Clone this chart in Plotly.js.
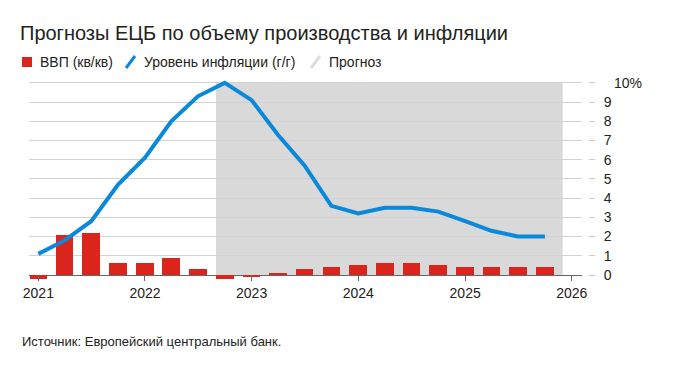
<!DOCTYPE html>
<html><head><meta charset="utf-8">
<script src="https://cdn.plot.ly/plotly-3.0.1.min.js"></script>
<style>html,body{margin:0;padding:0;background:#fff}#chart{width:675px;height:378px}</style>
</head><body><div id="chart"></div>
<script>
const quarters = ['2021-01-01','2021-04-01','2021-07-01','2021-10-01',
  '2022-01-01','2022-04-01','2022-07-01','2022-10-01',
  '2023-01-01','2023-04-01','2023-07-01','2023-10-01',
  '2024-01-01','2024-04-01','2024-07-01','2024-10-01',
  '2025-01-01','2025-04-01','2025-07-01','2025-10-01'];
const gdp = [-0.2, 2.1, 2.2, 0.6, 0.6, 0.9, 0.3, -0.2, -0.1, 0.1, 0.3, 0.4, 0.5, 0.6, 0.6, 0.5, 0.4, 0.4, 0.4, 0.4];
const inflation = [1.1, 1.8, 2.8, 4.7, 6.1, 8.0, 9.3, 10.0, 9.1, 7.3, 5.7, 3.6, 3.2, 3.5, 3.5, 3.3, 2.8, 2.3, 2.0, 2.0];
const forecastStart = '2022-09-01';
const forecastEnd = '2025-12-01';
const yearTicks = ['2021-01-01','2022-01-01','2023-01-01','2024-01-01','2025-01-01','2026-01-01'];
const yearLabels = ['2021','2022','2023','2024','2025','2026'];
const yTicks = [0,1,2,3,4,5,6,7,8,9,10];
const yLabels = ['0','1','2','3','4','5','6','7','8','9','10%'];
const legendNames = ['ВВП (кв/кв)', 'Уровень инфляции (г/г)', 'Прогноз'];
const titleText = 'Прогнозы ЕЦБ по объему производства и инфляции';
const sourceText = 'Источник: Европейский центральный банк.';

const RED = '#da251d', BLUE = '#0a88da', SHADE = '#d9d9d9';
const W = 675, H = 378, L = 29, R = 87, T = 79, B = 97;
const pw = W - L - R, ph = H - T - B;
const px = x => (x - L) / pw;
const py = y => (H - B - y) / ph;
const FONT = 'Liberation Sans, Arial, sans-serif';

const traces = [
  {type:'bar', x: quarters, y: gdp, marker:{color: RED}, width: 5.2e9, hoverinfo:'skip', showlegend:false},
  {type:'scatter', mode:'lines', x: quarters, y: inflation, line:{color: BLUE, width: 4, shape:'linear'}, hoverinfo:'skip', showlegend:false}
];

const shapes = [
  {type:'rect', layer:'below', xref:'x', yref:'y', x0: forecastStart, x1: forecastEnd, y0: 0, y1: 10, fillcolor: SHADE, line:{width:0}},
  {type:'rect', xref:'paper', yref:'paper', x0: px(22), x1: px(32), y0: py(67), y1: py(57), fillcolor: RED, line:{width:0}},
  {type:'line', xref:'paper', yref:'paper', x0: px(126), x1: px(135), y0: py(68), y1: py(56), line:{color: BLUE, width: 3}},
  {type:'line', xref:'paper', yref:'paper', x0: px(311), x1: px(320), y0: py(68), y1: py(56), line:{color: '#dcdcdc', width: 3}}
];

const lastIdx = yLabels.length - 1;
const annotations = [
  {xref:'paper', yref:'paper', x: px(38), y: py(62), xanchor:'left', yanchor:'middle', showarrow:false, text: legendNames[0], font:{family:FONT, size:14, color:'#222'}},
  {xref:'paper', yref:'paper', x: px(142), y: py(62), xanchor:'left', yanchor:'middle', showarrow:false, text: legendNames[1], font:{family:FONT, size:14, color:'#222'}},
  {xref:'paper', yref:'paper', x: px(327), y: py(62), xanchor:'left', yanchor:'middle', showarrow:false, text: legendNames[2], font:{family:FONT, size:14, color:'#222'}},
  {xref:'paper', yref:'paper', x: px(20), y: py(341), xanchor:'left', yanchor:'middle', showarrow:false, text: sourceText, font:{family:FONT, size:13, color:'#222'}},
  {xref:'paper', yref:'y', x: px(612), y: yTicks[lastIdx], xanchor:'left', yanchor:'middle', showarrow:false, text: yLabels[lastIdx], font:{family:FONT, size:14, color:'#222'}}
];

const layout = {
  width: W, height: H,
  margin: {l: L, r: R, t: T, b: B},
  paper_bgcolor: '#fff', plot_bgcolor: '#fff',
  font: {family: FONT, size: 14, color: '#222'},
  title: {text: titleText, xref:'container', yref:'container', x: 20/W, xanchor:'left', y: 1 - 33/H, yanchor:'middle', font:{family: FONT, size: 20, color:'#222'}},
  showlegend: false,
  bargap: 0,
  xaxis: {type:'date', domain:[0, (582 - L) / pw], range:['2020-11-30','2026-02-05'],
    tickvals: yearTicks, ticktext: yearLabels, ticks:'inside', ticklen: 6, tickcolor:'#666', tickwidth: 1,
    ticklabelstandoff: 2,
    showgrid:false, zeroline:false, showline:false, tickfont:{size:14, color:'#222'}, fixedrange:true},
  yaxis: {side:'right', anchor:'free', position: 1, range:[-0.3125, 10.2],
    tickvals: yTicks, ticktext: yLabels.map((t, i) => i === lastIdx ? '' : t), ticks:'outside', ticklen: 6, tickcolor:'#cfcfcf',
    ticklabelstandoff: 6,
    showgrid:true, gridcolor:'#d2d2d2', gridwidth:1, zeroline:true, zerolinecolor:'#666', zerolinewidth:1,
    showline:false, tickfont:{size:14, color:'#222'}, fixedrange:true},
  shapes: shapes,
  annotations: annotations
};

Plotly.newPlot('chart', traces, layout, {staticPlot: true, displayModeBar: false});
</script>
</body></html>
